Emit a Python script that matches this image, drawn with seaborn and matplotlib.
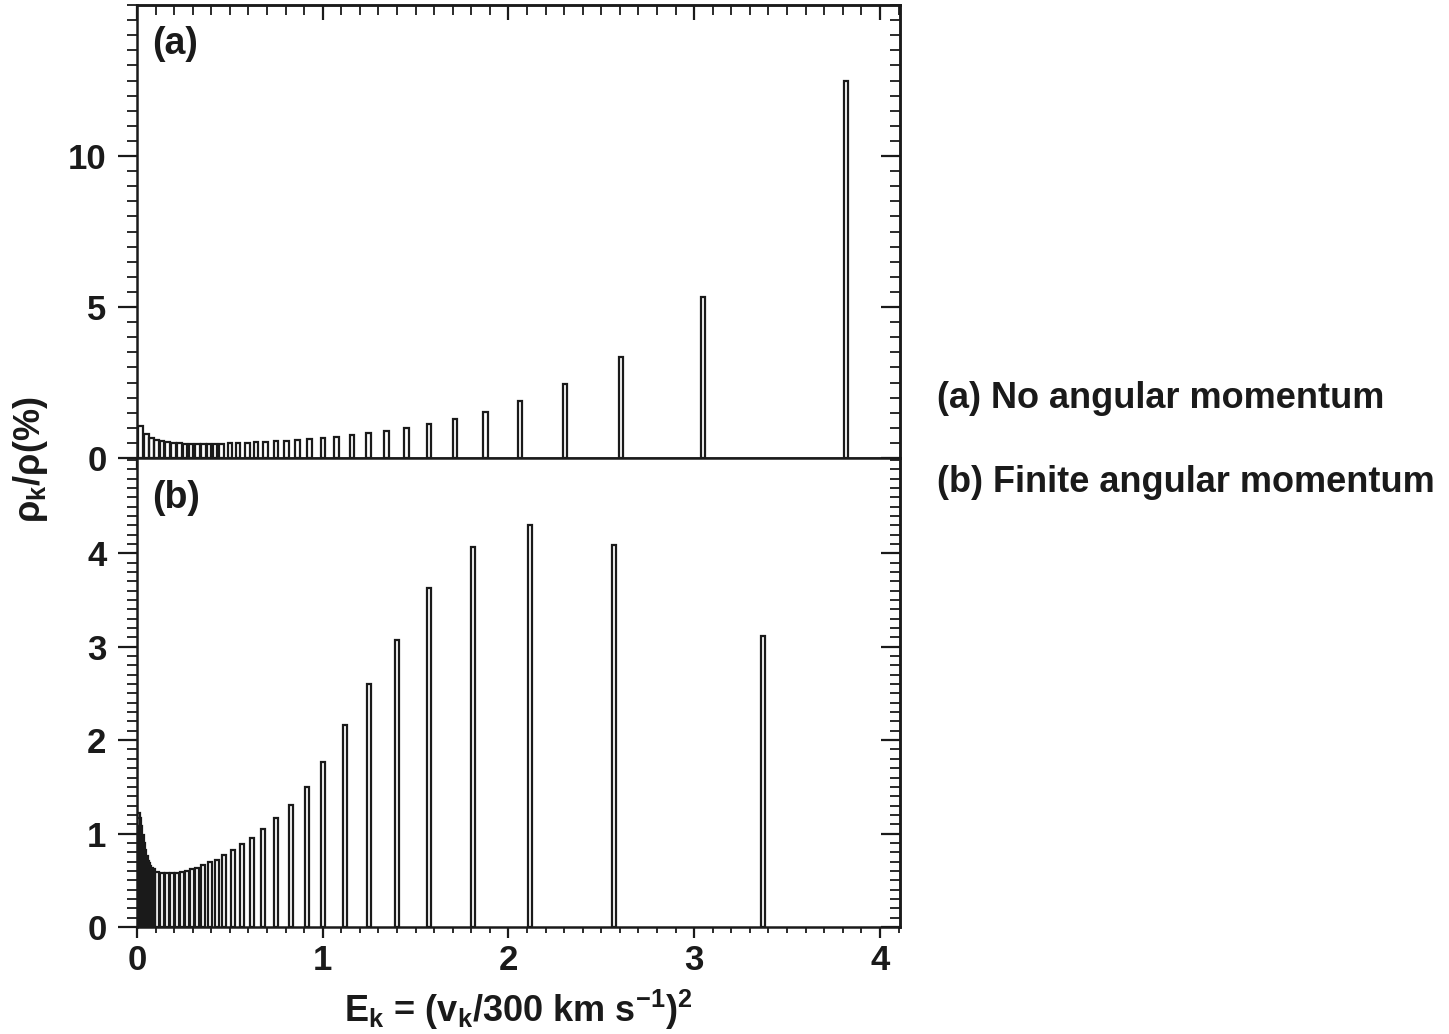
import numpy as np
import matplotlib
matplotlib.use('Agg')
import matplotlib.pyplot as plt
import seaborn as sns
from matplotlib.ticker import MultipleLocator

# ─────────────────────────────────────────
# Data
# ─────────────────────────────────────────

# (a) no angular momentum
ek_a = [0.020, 0.052, 0.079, 0.106, 0.136, 0.165, 0.196, 0.228, 0.258, 0.291,
        0.325, 0.357, 0.389, 0.420, 0.456, 0.501, 0.545, 0.594, 0.641, 0.693,
        0.747, 0.806, 0.865, 0.928, 1.000, 1.075, 1.159, 1.247, 1.344, 1.452,
        1.572, 1.712, 1.877, 2.062, 2.305, 2.606, 3.047, 3.817]
rho_a = [1.05, 0.79, 0.66, 0.61, 0.57, 0.53, 0.50, 0.49, 0.48, 0.47,
         0.47, 0.47, 0.47, 0.47, 0.48, 0.49, 0.50, 0.51, 0.52, 0.53,
         0.55, 0.57, 0.60, 0.63, 0.65, 0.71, 0.76, 0.82, 0.89, 0.99,
         1.13, 1.29, 1.52, 1.88, 2.45, 3.34, 5.33, 12.5]

# (b) finite angular momentum
ek_b = [0.004, 0.011, 0.018, 0.025, 0.032, 0.039, 0.046, 0.053, 0.060, 0.067,
        0.074, 0.084, 0.106, 0.133, 0.160, 0.187, 0.214, 0.240, 0.267, 0.294,
        0.325, 0.357, 0.393, 0.429, 0.470, 0.519, 0.567, 0.621, 0.680, 0.748,
        0.827, 0.913, 1.003, 1.120, 1.249, 1.400, 1.572, 1.809, 2.116, 2.566,
        3.368]
rho_b = [1.22, 1.17, 1.08, 0.99, 0.90, 0.82, 0.76, 0.71, 0.68, 0.655,
         0.635, 0.617, 0.59, 0.578, 0.574, 0.574, 0.58, 0.588, 0.60, 0.617,
         0.634, 0.66, 0.695, 0.72, 0.77, 0.82, 0.884, 0.955, 1.05, 1.17,
         1.31, 1.50, 1.765, 2.16, 2.60, 3.07, 3.63, 4.07, 4.30, 4.09,
         3.12]

yticks_a = [0, 5, 10]
yticks_b = [0, 1, 2, 3, 4]
xticks = [0, 1, 2, 3, 4]
panel_labels = ['(a)', '(b)']
legend_lines = ['(a) No angular momentum', '(b) Finite angular momentum']

# ─────────────────────────────────────────
# Style
# ─────────────────────────────────────────
sns.set_theme(style='ticks')
plt.rcParams['font.family'] = ['Liberation Sans', 'DejaVu Sans']
plt.rcParams['font.weight'] = 'bold'
plt.rcParams['mathtext.fontset'] = 'custom'
plt.rcParams['mathtext.rm'] = 'Liberation Sans:bold'
plt.rcParams['mathtext.bf'] = 'Liberation Sans:bold'
plt.rcParams['mathtext.it'] = 'Liberation Sans:bold'
plt.rcParams['axes.linewidth'] = 1.8

INK = '#1a1a1a'
FS = 25

fig = plt.figure(figsize=(14.49, 10.34), dpi=100)
L, R = 137 / 1449, 900 / 1449
ax_a = fig.add_axes([L, 1 - 458 / 1034, R - L, 453 / 1034])
ax_b = fig.add_axes([L, 1 - 927 / 1034, R - L, 469 / 1034])


def style_panel(ax, ymax, yticks, yminor, show_xlabels):
    ax.set_xlim(0, 4.108)
    ax.set_ylim(0, ymax)
    ax.set_xticks(xticks)
    ax.xaxis.set_minor_locator(MultipleLocator(0.1))
    ax.set_yticks(yticks)
    ax.yaxis.set_minor_locator(MultipleLocator(yminor))
    for s in ax.spines.values():
        s.set_visible(True)
        s.set_color(INK)
    ax.tick_params(axis='y', which='major', direction='out', length=14, width=1.6,
                   labelsize=FS, pad=8, colors=INK)
    ax.tick_params(axis='y', which='minor', direction='out', length=7, width=1.3, colors=INK)
    ax.tick_params(axis='x', which='major', direction='out', length=8, width=1.6,
                   labelsize=FS, pad=4, colors=INK, labelbottom=show_xlabels)
    ax.tick_params(axis='x', which='minor', direction='out', length=4.5, width=1.3, colors=INK)
    ax.tick_params(top=False, right=False, which='both')
    for lab in ax.get_xticklabels() + ax.get_yticklabels():
        lab.set_fontweight('bold')

    # inward ticks on the right side
    sec_y = ax.secondary_yaxis('right')
    sec_y.set_yticks(yticks)
    sec_y.yaxis.set_minor_locator(MultipleLocator(yminor))
    sec_y.tick_params(which='major', direction='in', length=14, width=1.6, labelright=False, colors=INK)
    sec_y.tick_params(which='minor', direction='in', length=7, width=1.3, colors=INK)
    sec_y.spines['right'].set_linewidth(1.8)
    sec_y.spines['right'].set_color(INK)


style_panel(ax_a, 15, yticks_a, 0.5, False)
style_panel(ax_b, 5.02, yticks_b, 0.1, True)

# inward ticks along the top of panel (a)
sec_x = ax_a.secondary_xaxis('top')
sec_x.set_xticks(xticks)
sec_x.xaxis.set_minor_locator(MultipleLocator(0.1))
sec_x.tick_params(which='major', direction='in', length=11, width=1.6, labeltop=False, colors=INK)
sec_x.tick_params(which='minor', direction='in', length=7, width=1.3, colors=INK)
sec_x.spines['top'].set_linewidth(1.8)
sec_x.spines['top'].set_color(INK)

ax_a.bar(ek_a, rho_a, width=0.024, fill=False, edgecolor=INK, linewidth=1.6)
ax_b.bar(ek_b, rho_b, width=0.022, fill=False, edgecolor=INK, linewidth=1.6)

for ax, lab in zip([ax_a, ax_b], panel_labels):
    ax.text(0.02, 0.915, lab, transform=ax.transAxes, fontsize=27, fontweight='bold',
            ha='left', va='center', color=INK)

fig.text(30 / 1449, 1 - 460 / 1034, r'ρ$_{\mathbf{k}}$/ρ(%)', rotation=90,
         ha='center', va='center', fontsize=26, fontweight='bold', color=INK)
fig.text(518 / 1449, 1 - 1010 / 1034,
         r'E$_{\mathbf{k}}$ = (v$_{\mathbf{k}}$/300 km s$^{\mathbf{-1}}$)$^{\mathbf{2}}$',
         ha='center', va='center', fontsize=26, fontweight='bold', color=INK)

fig.text(937 / 1449, 1 - 398 / 1034, legend_lines[0], ha='left', va='center',
         fontsize=26, fontweight='bold', color=INK)
fig.text(937 / 1449, 1 - 483 / 1034, legend_lines[1], ha='left', va='center',
         fontsize=26, fontweight='bold', color=INK)

fig.savefig('out.png', dpi=100, facecolor='white')
plt.close(fig)
